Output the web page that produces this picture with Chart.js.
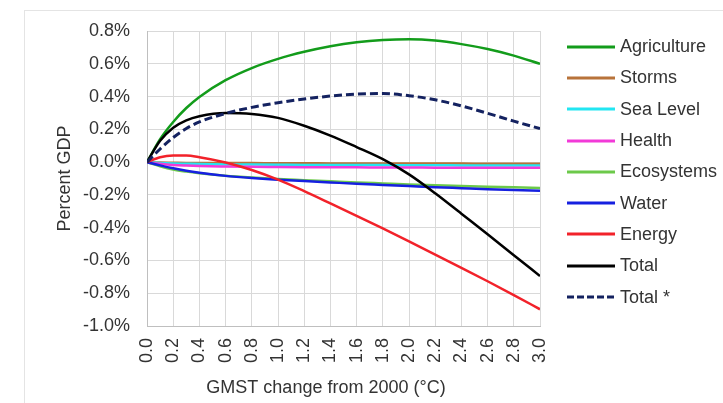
<!DOCTYPE html>
<html>
<head>
<meta charset="utf-8">
<script src="https://cdn.jsdelivr.net/npm/chart.js@4.4.1/dist/chart.umd.min.js"></script>
<style>
  body { margin: 0; background: #fff; }
  #wrap { position: relative; width: 723px; height: 403px; overflow: hidden; }
  #frame { position: absolute; left: 24px; top: 10px; width: 720px; height: 400px;
           border-top: 1px solid #e4e4e4; border-left: 1px solid #e4e4e4; }
  #chart { position: absolute; left: 0; top: 0; }
  #legend { position: absolute; left: 567px; top: 31px;
            font: 18px "Liberation Sans", Arial, sans-serif; color: #333333; }
  .item { height: 31.3px; display: flex; align-items: center; white-space: nowrap; }
  .item svg { margin-right: 5px; }
</style>
</head>
<body>
<div id="wrap">
  <div id="frame"></div>
  <canvas id="chart" width="723" height="403"></canvas>
  <div id="legend"></div>
</div>
<script>
// GMST change from 2000 (°C)
const temps = [0, 0.1, 0.2, 0.3, 0.4, 0.6, 0.8, 1.0, 1.2, 1.4, 1.6, 1.8, 2.0, 2.2, 2.4, 2.6, 2.8, 3.0];

// percent of GDP
const agriculture = [0, 0.14, 0.245, 0.33, 0.398, 0.50, 0.574, 0.63, 0.673, 0.707, 0.731, 0.745, 0.75, 0.742, 0.72, 0.69, 0.65, 0.60];
const storms      = [0, -0.003, -0.004, -0.005, -0.005, -0.006, -0.006, -0.007, -0.007, -0.008, -0.008, -0.008, -0.009, -0.009, -0.009, -0.01, -0.01, -0.01];
const seaLevel    = [0, -0.005, -0.008, -0.01, -0.012, -0.014, -0.015, -0.016, -0.017, -0.017, -0.018, -0.018, -0.019, -0.019, -0.02, -0.02, -0.02, -0.02];
const health      = [0, -0.01, -0.017, -0.021, -0.024, -0.027, -0.029, -0.03, -0.031, -0.032, -0.032, -0.033, -0.033, -0.034, -0.034, -0.034, -0.035, -0.035];
const ecosystems  = [0, -0.025, -0.045, -0.058, -0.068, -0.083, -0.094, -0.103, -0.11, -0.117, -0.124, -0.13, -0.136, -0.141, -0.146, -0.15, -0.154, -0.158];
const water       = [0, -0.02, -0.038, -0.053, -0.065, -0.084, -0.097, -0.107, -0.116, -0.124, -0.132, -0.139, -0.146, -0.153, -0.159, -0.165, -0.17, -0.175];
const energy      = [0, 0.03, 0.04, 0.04, 0.03, -0.002, -0.048, -0.107, -0.177, -0.252, -0.328, -0.405, -0.484, -0.564, -0.645, -0.727, -0.811, -0.898];
const total       = [0, 0.13, 0.21, 0.255, 0.28, 0.30, 0.294, 0.27, 0.222, 0.162, 0.092, 0.018, -0.075, -0.19, -0.315, -0.44, -0.568, -0.695];
const totalStar   = [0, 0.08, 0.15, 0.205, 0.245, 0.297, 0.334, 0.362, 0.385, 0.403, 0.415, 0.418, 0.405, 0.38, 0.343, 0.298, 0.25, 0.204];

const seriesNames  = ['Agriculture', 'Storms', 'Sea Level', 'Health', 'Ecosystems', 'Water', 'Energy', 'Total', 'Total *'];
const seriesValues = [agriculture, storms, seaLevel, health, ecosystems, water, energy, total, totalStar];
const seriesColors = ['#139c1b', '#b8733a', '#22e6f2', '#f23ad8', '#6cc94a', '#1620e0', '#f2222a', '#000000', '#142260'];

const xTickValues = [0, 0.2, 0.4, 0.6, 0.8, 1.0, 1.2, 1.4, 1.6, 1.8, 2.0, 2.2, 2.4, 2.6, 2.8, 3.0];
const yTickValues = [-1.0, -0.8, -0.6, -0.4, -0.2, 0, 0.2, 0.4, 0.6, 0.8];

const xTitle = 'GMST change from 2000 (°C)';
const yTitle = 'Percent GDP';

const fontFamily = '"Liberation Sans", Arial, sans-serif';
const textColor = '#333333';
Chart.defaults.font.family = fontFamily;
Chart.defaults.font.size = 18;
Chart.defaults.color = textColor;

const datasets = seriesNames.map((name, i) => ({
    label: name,
    data: temps.map((t, j) => ({ x: t, y: seriesValues[i][j] })),
    borderColor: seriesColors[i],
    borderWidth: name === 'Total *' ? 3 : 2.5,
    borderDash: name === 'Total *' ? [8, 4] : [],
    pointRadius: 0,
    cubicInterpolationMode: 'monotone',
    order: seriesNames.length - i
}));

// x axis title sits a bit left of the plot centre in the original
const xTitlePlugin = {
    id: 'xTitle',
    afterDraw(chart) {
        const ctx = chart.ctx;
        ctx.save();
        ctx.font = '18px ' + fontFamily;
        ctx.fillStyle = textColor;
        ctx.textAlign = 'center';
        ctx.textBaseline = 'middle';
        ctx.fillText(xTitle, 326, 388);
        ctx.restore();
    }
};

new Chart(document.getElementById('chart'), {
    type: 'line',
    data: { datasets },
    options: {
        responsive: false,
        animation: false,
        layout: { padding: { left: 0, top: 31, right: 183, bottom: 0 } },
        plugins: { legend: { display: false }, tooltip: { enabled: false } },
        scales: {
            x: {
                type: 'linear',
                min: 0,
                max: 3,
                afterBuildTicks: scale => { scale.ticks = xTickValues.map(v => ({ value: v })); },
                afterFit: scale => { scale.height = 77; },
                ticks: {
                    minRotation: 90,
                    maxRotation: 90,
                    padding: 12,
                    callback: v => v.toFixed(1)
                },
                grid: { color: '#d9d9d9', drawTicks: false },
                border: { color: '#bfbfbf' }
            },
            y: {
                min: -1,
                max: 0.8,
                afterBuildTicks: scale => { scale.ticks = yTickValues.map(v => ({ value: v })); },
                afterFit: scale => { scale.width = 147; },
                ticks: {
                    padding: 17,
                    callback: v => (Math.abs(v) < 1e-9 ? 0 : v).toFixed(1) + '%'
                },
                grid: { color: '#d9d9d9', drawTicks: false },
                border: { color: '#bfbfbf' },
                title: { display: true, text: yTitle, padding: { top: 54 } }
            }
        }
    },
    plugins: [xTitlePlugin]
});

// legend, one row per series
const legend = document.getElementById('legend');
seriesNames.forEach((name, i) => {
    const row = document.createElement('div');
    row.className = 'item';
    const dash = name === 'Total *' ? ' stroke-dasharray="7 3"' : '';
    row.innerHTML = `<svg width="48" height="8"><line x1="0" y1="4" x2="48" y2="4" stroke="${seriesColors[i]}" stroke-width="3"${dash}/></svg><span>${name}</span>`;
    legend.appendChild(row);
});
</script>
</body>
</html>
